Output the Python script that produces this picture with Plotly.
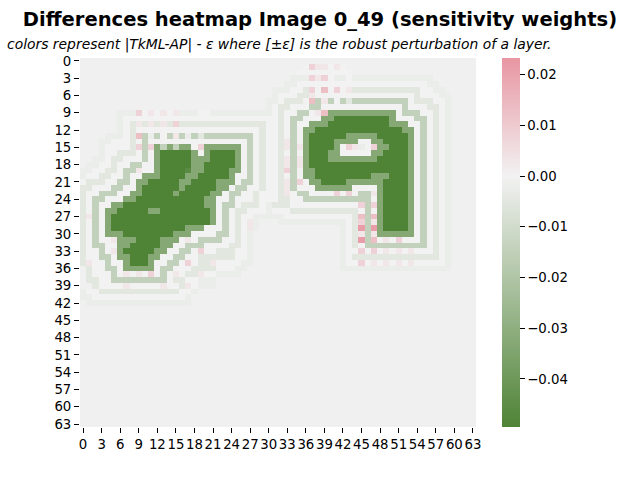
import re
import plotly.graph_objects as go

TITLE = "Differences heatmap Image 0_49 (sensitivity weights)"
SUBTITLE = "<i>colors represent |TkML-AP| - ε where [±ε] is the robust perturbation of a layer.</i>"
TICK_VALUES = list(range(0, 64, 3))
TICK_LABELS = [str(v) for v in TICK_VALUES]
COLORBAR_TICKS = [-0.04, -0.03, -0.02, -0.01, 0.0, 0.01, 0.02]
Z_MIN = -0.0495
Z_MAX = 0.0233

# value of each letter used in the grid rows
LEVELS = {"-": 0.0, "a": -0.0022, "b": -0.005, "c": -0.0146, "d": -0.033, "g": -0.046,
          "e": -0.0495, "p": 0.003, "q": 0.008, "r": 0.013, "s": 0.0215}

# one string per grid row: "<col>[-<col>]<letter>", later entries override earlier ones
ROW_RUNS = [
 "",
 "36-42- 37q 38p 39p 41p",
 "35-43-",
 "34-36a 37q 38p 39q 40- 41-42a 43- 44-56a",
 "33-34a 35-55- 56-57a",
 "31-33a 34-35- 36b 37q 38- 39r 40- 41q 42- 43p 44-54b 55-56- 57-58a",
 "31a 32-34- 35-36b 37p 38-53- 54b 55-57- 58-59a",
 "30-31a 32- 33-35b 36- 37r 38c 39p 40c 41- 42c 43b 44-52c 53- 54-56b 57-58- 59a",
 "30a 31- 32-33b 34-36- 37-38c 39-51- 52c 53-55- 56-57b 58- 59a",
 "6-8a 9q 10- 11p 12- 13p 14- 15p 16-18a 19-20- 21-30a 31- 32b 33-34- 35-36c 37- 38p 39r 40-50d 51- 52-54c 55-56- 57b 58- 59a",
 "6a 7-31- 32b 33- 34-35c 36-38- 39-40d 41-49e 50d 51-53- 54-55c 56- 57b 58- 59a",
 "6a 7- 8b 9p 10b 11p 12b 13p 14b 15q 16-29b 30-31- 32b 33- 34c 35-36- 37-39d 40-49e 50-52d 53-54- 55c 56- 57b 58- 59a",
 "6a 7- 8b 9-28- 29b 30-31- 32b 33- 34c 35- 36-37d 38-51e 52-53d 54- 55c 56- 57b 58- 59a",
 "4-6a 7- 8b 9r 10c 11a 12c 13- 14c 15p 16c 17a 18c 19b 20-27c 28- 29b 30-31- 32b 33- 34c 35- 36d 37-42e 43-47d 48-52e 53d 54- 55c 56- 57b 58- 59a",
 "3-4a 5-7- 8b 9- 10c 11-26- 27c 28- 29b 30-31- 32b 33p 34c 35- 36d 37-40e 41-44d 45-46- 47-48d 49-52e 53d 54- 55c 56- 57b 58- 59a",
 "3a 4-7- 8b 9q 10c 11q 12d 13c 14d 15c 16-17d 18- 19q 20-25d 26- 27c 28- 29b 30-31- 32b 33p 34c 35p 36d 37-40e 41d 42- 43q 44p 45a 46- 47q 48-49d 50-52e 53d 54- 55c 56- 57b 58- 59a",
 "3a 4-5- 6-8b 9- 10c 11- 12d 13-17e 18d 19- 20d 21-24e 25d 26- 27c 28- 29b 30-31- 32b 33- 34c 35- 36d 37-39e 40-41d 42-46- 47-48d 49-52e 53d 54- 55c 56- 57b 58- 59a",
 "2-3a 4- 5-6b 7-9- 10c 11- 12d 13-17e 18-20d 21-24e 25d 26- 27c 28- 29b 30-31- 32b 33p 34c 35p 36d 37-39e 40-47d 48-52e 53d 54- 55c 56- 57b 58- 59a",
 "1-2a 3-4- 5b 6-7- 8-9c 10-11- 12d 13-17e 18-19d 20-24e 25d 26- 27c 28- 29b 30-31- 32b 33p 34c 35p 36d 37-52e 53d 54- 55c 56- 57b 58- 59a",
 "0-1a 2-3- 4-5b 6- 7-8c 9p 10-11- 12d 13-16e 17g 18-19d 20-23e 24-25d 26- 27c 28- 29b 30-31- 32b 33q 34c 35- 36-37d 38-52e 53d 54- 55c 56- 57b 58- 59a",
 "0a 1-2- 3-4b 5-6- 7c 8-9- 10-12d 13-16e 17-18d 19-23e 24d 25-26- 27c 28- 29b 30-31- 32b 33- 34c 35- 36-37d 38-46e 47-49d 50-52e 53d 54- 55c 56- 57b 58- 59a",
 "0- 1-3b 4-5- 6-7c 8- 9-10d 11-15e 16-17d 18-21e 22-24d 25- 26-27c 28- 29b 30-31- 32b 33p 34c 35q 36- 37-38d 39-42e 43-48d 49-52e 53d 54- 55c 56- 57b 58- 59a",
 "0-1b 2-4- 5-6c 7-8- 9d 10-15e 16d 17-21e 22-23d 24- 25-26c 27-28- 29b 30-31- 32b 33p 34c 35-37- 38-43d 44-47- 48d 49-52e 53d 54- 55c 56- 57b 58- 59a",
 "0b 1-2- 3-5c 6-7- 8-9d 10-14e 15d 16-20e 21-22d 23- 24-25c 26-27- 28b 29-31- 32b 33p 34- 35-36c 37-40- 41q 42- 43q 44- 45-46c 47p 48d 49-52e 53d 54- 55c 56- 57b 58- 59a",
 "0b 1- 2-3c 4-6- 7-8d 9-19e 20-21d 22-23- 24c 25-27- 28b 29-31- 32-33b 34-35- 36-46c 47- 48d 49-52e 53d 54- 55c 56- 57b 58- 59a",
 "0b 1- 2c 3-4- 5-6d 7-19e 20-21d 22- 23-24c 25- 26-28b 29- 30a 31-33b 34-44- 45q 46c 47q 48d 49-52e 53d 54- 55c 56- 57b 58- 59a",
 "0b 1- 2c 3- 4-5d 6-10e 11-12d 13-20e 21d 22- 23c 24- 25-26b 27-29- 30a 31-33- 34-44b 45- 46c 47- 48d 49-52e 53d 54- 55c 56- 57b 58- 59a",
 "0b 1p 2c 3- 4d 5-20e 21d 22- 23c 24- 25b 26-27- 28-32a 33-43- 44b 45r 46c 47r 48d 49-52e 53d 54- 55c 56- 57b 58- 59a",
 "0b 1- 2c 3- 4d 5-20e 21d 22- 23c 24- 25b 26- 27p 28a 32-42a 43- 44b 45q 46c 47p 48d 49-52e 53d 54- 55c 56- 57b 58- 59a",
 "0b 1- 2c 3- 4d 5-16e 17-19d 20-22- 23c 24- 25b 26- 27p 28a 42a 43- 44b 45s 46c 47s 48d 49-52e 53d 54- 55c 56- 57b 58- 59a",
 "0b 1- 2c 3- 4-6d 7-14e 15-17d 18-21- 22-23c 24- 25b 26- 27a 42a 43- 44b 45p 46c 47p 48-53d 54- 55c 56- 57b 58- 59a",
 "0b 1- 2c 3-4- 5p 6-8d 9-12e 13-15d 16- 17p 18- 19-22c 23-24- 25b 26- 27a 42a 43- 44b 45s 46c 47r 48- 49p 50- 51q 52-54- 55c 56- 57b 58- 59a",
 "0b 1- 2-3c 4-5- 6-7d 8-12e 13-14d 15-16- 17-19c 20-23- 24-25b 26- 27a 42a 43- 44b 45- 46-55c 56- 57b 58- 59a",
 "0b 1-2- 3c 4- 5p 6d 7-11e 12-13d 14-15- 16-17c 18- 19q 20-21- 22-24b 25-26- 27a 42a 43-44- 45q 46- 47q 48- 49p 50- 51p 52- 53p 54-56- 57b 58- 59a",
 "0b 1-2- 3-4c 5- 6-7d 8-10e 11-12d 13-14- 15-16c 17-18- 19-24b 25-26- 27a 42a 43- 44-57b 58- 59a",
 "0b 1p 2-3- 4c 5-6- 7d 8-10e 11d 12-13- 14-15c 16- 17q 18- 19-20b 21p 22-25- 26-27a 42a 43-44- 45q 46- 47p 48- 49p 50- 51p 52- 53p 54-58- 59a",
 "1b 2-3- 4-5c 6- 7-11d 12- 13-14c 15-17- 18-21b 22-24- 25-26a 42-59a",
 "1b 2-4- 5c 6- 7p 8- 9p 10- 11q 12- 13c 14- 15p 16- 17-18b 19p 20-21- 22-25a",
 "1-2b 3-4- 5-13c 14- 15-16b 17-18- 19-21a",
 "2b 3-6- 7p 8-12- 13p 14-15- 16b 17p 18- 19-21a",
 "0a 1-2- 3-15b 16-17- 18a",
 "0-1a 2-16- 17a",
 "1-17a",
] + [""] * 21


def decode(run_text):
    row = [None] * 64
    for start, end, letter in re.findall(r"(\d+)(?:-(\d+))?([a-z\-])(?:\s|$)", run_text):
        first = int(start)
        last = int(end) if end else first
        for col in range(first, last + 1):
            row[col] = LEVELS[letter]
    return row


z = [decode(r) for r in ROW_RUNS]

colorscale = [
    [0.0, "#4f8336"],
    [(0 - Z_MIN) / (Z_MAX - Z_MIN), "#f2f2f2"],
    [1.0, "#e896a2"],
]

fig = go.Figure(go.Heatmap(
    z=z,
    zmin=Z_MIN,
    zmax=Z_MAX,
    colorscale=colorscale,
    hoverongaps=False,
    colorbar=dict(
        x=(502 - 80) / 396, xanchor="left", xref="paper", xpad=0, ypad=0,
        y=0.5, yanchor="middle", len=1, lenmode="fraction",
        thickness=18, thicknessmode="pixels", outlinewidth=0,
        tickvals=COLORBAR_TICKS, tickformat=".2f",
        ticks="outside", ticklen=5, tickwidth=1, tickcolor="black",
        tickfont=dict(family="DejaVu Sans", size=13.3, color="black"),
    ),
))

fig.update_layout(
    width=640, height=480,
    margin=dict(l=80, r=164, t=58, b=53),
    paper_bgcolor="white",
    plot_bgcolor="#f0f0f0",
    font=dict(family="DejaVu Sans", size=13.3, color="black"),
    title=dict(
        text="<b>" + TITLE + "</b>",
        x=(320 - 80) / 396, xref="paper", xanchor="center", y=(480 - 19) / 480, yanchor="middle",
        font=dict(family="DejaVu Sans", size=19.55, color="black"),
    ),
    annotations=[dict(
        text=SUBTITLE, xref="paper", yref="paper",
        x=(5 - 80) / 396, y=(427 - 45) / 369, xanchor="left", yanchor="middle",
        showarrow=False, font=dict(family="DejaVu Sans", size=13.9, color="black"),
    )],
    xaxis=dict(range=[-0.5, 63.5], tickvals=TICK_VALUES, ticktext=TICK_LABELS, tickangle=0,
               ticks="outside", ticklen=5, tickwidth=1, tickcolor="black",
               showgrid=False, zeroline=False, showline=False),
    yaxis=dict(range=[63.5, -0.5], tickvals=TICK_VALUES, ticktext=TICK_LABELS,
               ticks="outside", ticklen=5, tickwidth=1, tickcolor="black",
               showgrid=False, zeroline=False, showline=False),
)
fig.write_html("out.html", config={"displayModeBar": False},
               post_script="document.body.style.margin='0';")
